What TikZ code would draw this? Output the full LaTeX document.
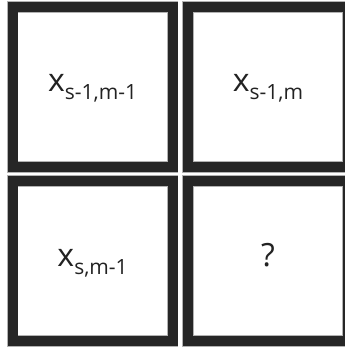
\documentclass[tikz,border=0pt]{standalone}
\usepackage{fontspec}
\setmainfont{Open Sans}
\definecolor{cellgray}{RGB}{38,38,38}
\definecolor{textgray}{RGB}{34,34,34}
\newcommand{\cellvar}[1]{x\raisebox{-8pt}{\fontsize{21}{25}\selectfont #1}}

\begin{document}
\begin{tikzpicture}[x=1pt, y=1pt,
	cell/.style={draw=cellgray, line width=10pt, minimum size=160pt, inner sep=0pt,
		text=textgray, font=\fontsize{32}{38}\selectfont, text height=20pt, text depth=10pt,
		preaction={draw=black!30, line width=11.5pt}}]
	\useasboundingbox (0,0) rectangle (345,-351);
	% previous row
	\node[cell] (upleft) at (92.6,-86.9) {\cellvar{s-1,m-1}};
	\node[cell] (up) at (268,-86.9) {\cellvar{s-1,m}};
	% current row
	\node[cell] (left) at (92.6,-261) {\cellvar{s,m-1}};
	\node[cell] (here) at (268,-261) {?};
\end{tikzpicture}
\end{document}
